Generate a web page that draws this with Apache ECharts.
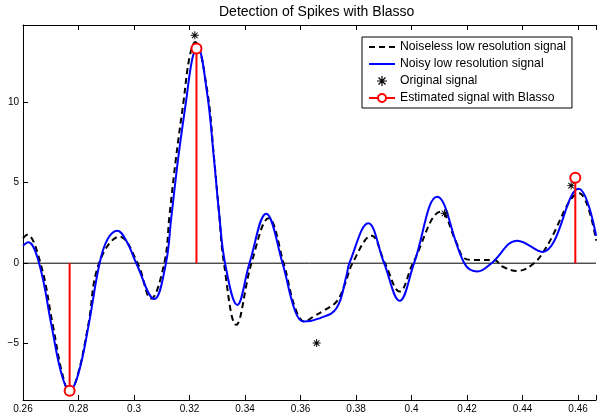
<!DOCTYPE html>
<html>
<head>
<meta charset="utf-8">
<script src="https://cdn.jsdelivr.net/npm/echarts@6/dist/echarts.min.js"></script>
<style>
html,body{margin:0;padding:0;background:#fff;}
#chart{width:599px;height:416px;}
</style>
</head>
<body>
<div id="chart"></div>
<script>
// ---- data ----
const xTicks = [0.26, 0.28, 0.3, 0.32, 0.34, 0.36, 0.38, 0.4, 0.42, 0.44, 0.46];
const yTicks = [-5, 0, 5, 10];

const noiselessX = [0.2600, 0.2615, 0.2663, 0.2708, 0.2742, 0.2768, 0.2797, 0.2835, 0.2874, 0.2948,
  0.3013, 0.3061, 0.3109, 0.3128, 0.3151, 0.3178, 0.3200, 0.3220, 0.3263, 0.3288, 0.3306, 0.3324,
  0.3368, 0.3423, 0.3485, 0.3539, 0.3581, 0.3614, 0.3647, 0.3682, 0.3730, 0.3760, 0.3787, 0.3856,
  0.3904, 0.3957, 0.4005, 0.4106, 0.4160, 0.4190, 0.4226, 0.4298, 0.4328, 0.4381, 0.4441, 0.4483,
  0.4604, 0.4665];
const noiselessY = [1.55, 1.76, 0, -3.9, -6.9, -8.0, -6.95, -3.85, 0, 1.65,
  0, -2.2, 0, 3.0, 6.5, 10.0, 12.8, 13.75, 10.8, 6.6, 3.2, 0,
  -3.83, 0, 2.79, 0, -2.8, -3.62, -3.31, -2.96, -2.38, -1.3, 0, 1.71,
  0, -1.76, 0, 3.2, 1.34, 0.31, 0.2, 0.2, -0.21, -0.48, 0, 0.93,
  4.34, 1.4];

const noisyX = [0.2600, 0.2619, 0.2658, 0.2703, 0.2739, 0.2768, 0.2799, 0.2837, 0.2876, 0.2905,
  0.2940, 0.2975, 0.3008, 0.3073, 0.3115, 0.3134, 0.3159, 0.3187, 0.3210, 0.3228, 0.3263, 0.3288,
  0.3306, 0.3328, 0.3372, 0.3416, 0.3476, 0.3535, 0.3581, 0.3611, 0.3671, 0.3730, 0.3766, 0.3776,
  0.3844, 0.3901, 0.3957, 0.4009, 0.4092, 0.4190, 0.4238, 0.4288, 0.4381, 0.4471, 0.4602, 0.4665];
const noisyY = [1.09, 1.30, 0, -3.9, -6.9, -7.9, -6.9, -3.8, 0, 1.5,
  2.02, 1.3, 0, -2.23, 0, 2.8, 6.5, 10.0, 12.7, 13.44, 10.6, 6.5,
  3.2, 0, -2.59, 0, 3.08, 0, -3.0, -3.62, -3.41, -2.79, -0.73, 0,
  2.48, 0, -2.34, 0, 4.13, 0, -0.52, 0, 1.40, 0.70, 4.63, 1.7];

const originalX = [0.2768, 0.3219, 0.3658, 0.4119, 0.4575];
const originalY = [-8.0, 14.16, -4.96, 3.10, 4.82];

const blassoX = [0.2768, 0.3225, 0.4590];
const blassoY = [-7.92, 13.34, 5.31];

const legendNames = ['Noiseless low resolution signal', 'Noisy low resolution signal',
  'Original signal', 'Estimated signal with Blasso'];

// ---- chart ----
const FONT = 'Liberation Sans, Arial, Helvetica, sans-serif';
const X_MIN = 0.26, X_MAX = 0.46645;
const zip = (xs, ys) => xs.map((x, i) => [x, ys[i]]);
const starPath = 'path://M4.4,0L5.6,0L5.6,10L4.4,10Z M0,4.4L10,4.4L10,5.6L0,5.6Z ' +
  'M1.92,1.08L8.92,8.08L8.08,8.92L1.08,1.92Z M8.92,1.92L1.92,8.92L1.08,8.08L8.08,1.08Z';

const xLabel = v => { const t = xTicks.find(t => Math.abs(t - v) < 1e-9); return t === undefined ? '' : String(t); };
const yLabel = v => { const t = yTicks.find(t => Math.abs(t - v) < 1e-9); return t === undefined ? '' : String(t).replace('-', '\u2212'); };

const axisCommon = {
  axisLine: {show: true, onZero: false, lineStyle: {color: '#000', width: 1}},
  axisTick: {show: true, inside: true, length: 5, lineStyle: {color: '#000', width: 1}},
  splitLine: {show: false}
};

const stemSeries = blassoX.map((x, i) => ({
  name: legendNames[3],
  type: 'line',
  xAxisIndex: 0,
  symbol: 'emptyCircle',
  symbolSize: 10,
  showAllSymbol: true,
  color: '#ff0000',
  lineStyle: {color: '#ff0000', width: 2},
  itemStyle: {color: '#ff0000', borderColor: '#ff0000', borderWidth: 1.5},
  z: 5,
  silent: true,
  data: [{value: [x, 0], symbol: 'none'}, {value: [x, blassoY[i]]}]
}));

const hiddenMarker = {color: 'rgba(0,0,0,0)', borderColor: 'rgba(0,0,0,0)', borderWidth: 0};

const option = {
  animation: false,
  backgroundColor: '#fff',
  textStyle: {fontFamily: FONT},
  title: {
    text: 'Detection of Spikes with Blasso',
    left: 214, top: 0,
    textStyle: {fontSize: 14, fontWeight: 'normal', color: '#000', fontFamily: FONT}
  },
  grid: {left: 23, top: 25, bottom: 16, right: 0, containLabel: false},
  legend: {
    data: [
      {name: legendNames[0], itemStyle: hiddenMarker},
      {name: legendNames[1], itemStyle: hiddenMarker},
      {name: legendNames[2]},
      {name: legendNames[3]}
    ],
    left: 362, top: 37,
    orient: 'vertical',
    align: 'left',
    itemWidth: 26, itemHeight: 10, itemGap: 5,
    padding: [4, 6, 4, 6],
    borderColor: '#000', borderWidth: 1, borderRadius: 0,
    backgroundColor: '#fff',
    selectedMode: false,
    textStyle: {fontSize: 12.2, color: '#000', fontFamily: FONT}
  },
  xAxis: [
    Object.assign({}, axisCommon, {
      type: 'value', position: 'bottom', min: X_MIN, max: X_MAX, interval: 0.02,
      axisLabel: {show: true, margin: 4, fontSize: 10, color: '#000', fontFamily: FONT,
        formatter: xLabel, showMinLabel: true, showMaxLabel: true}
    }),
    Object.assign({}, axisCommon, {
      type: 'value', position: 'top', min: X_MIN, max: X_MAX, interval: 0.02,
      axisLabel: {show: false}
    })
  ],
  yAxis: Object.assign({}, axisCommon, {
    type: 'value', position: 'left', min: -8.5, max: 14.8, minInterval: 5, maxInterval: 5,
    axisLabel: {show: true, margin: 4, fontSize: 10, color: '#000', fontFamily: FONT,
      formatter: yLabel, showMinLabel: true, showMaxLabel: true}
  }),
  series: [
    {
      name: 'baseline', type: 'line', symbol: 'none', silent: true, z: 1,
      lineStyle: {color: '#000', width: 1},
      data: [[X_MIN, 0], [X_MAX, 0]]
    },
    {
      name: legendNames[0], type: 'line', symbol: 'none', smooth: 0.4, z: 2,
      color: '#000',
      lineStyle: {color: '#000', width: 2, type: [6, 4]},
      data: zip(noiselessX, noiselessY)
    },
    {
      name: legendNames[1], type: 'line', symbol: 'none', smooth: 0.4, z: 3,
      color: '#0000ff',
      lineStyle: {color: '#0000ff', width: 2},
      data: zip(noisyX, noisyY)
    },
    {
      name: legendNames[2], type: 'scatter', symbol: starPath, symbolSize: 8, z: 4,
      symbolKeepAspect: true,
      itemStyle: {color: '#000', opacity: 1},
      data: zip(originalX, originalY)
    }
  ].concat(stemSeries)
};

const chart = echarts.init(document.getElementById('chart'), null, {renderer: 'canvas'});
chart.setOption(option);
</script>
</body>
</html>
